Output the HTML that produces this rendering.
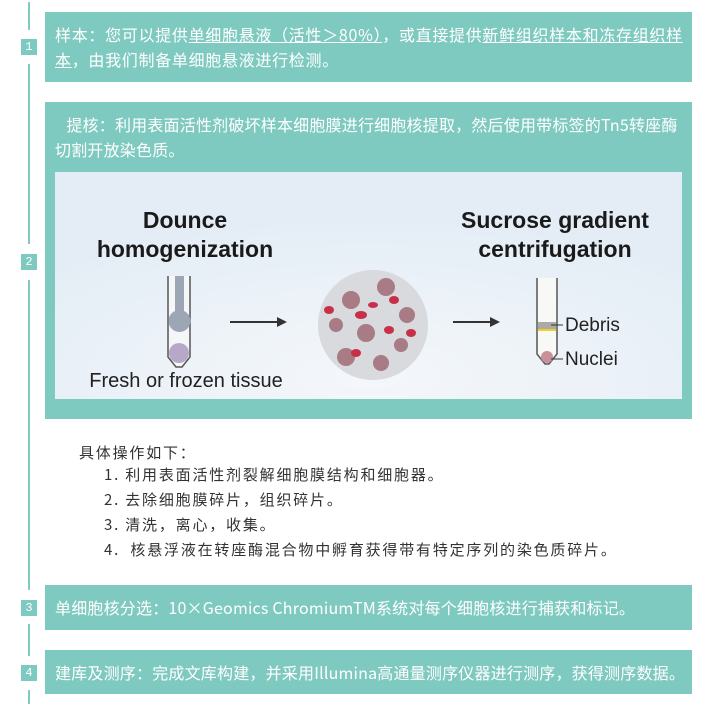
<!DOCTYPE html>
<html><head><meta charset="utf-8"><style>
body{margin:0;width:718px;height:711px;background:#fff;position:relative;overflow:hidden;font-family:"Liberation Sans","Noto Sans CJK SC",sans-serif}
.vl{position:absolute;left:28px;width:2px;background:#7fcac0}
.lab{position:absolute;left:21px;width:16px;height:16px;background:#7fcac0;color:#fff;font-size:12px;line-height:16px;text-align:center;font-family:"Liberation Mono",monospace}
.box{position:absolute;left:45px;width:647px;background:#7fcac0;color:#fff;font-size:16px;line-height:25px;font-family:"Noto Sans CJK SC",sans-serif;letter-spacing:0.2px}
.t{position:absolute;left:10px;white-space:nowrap}
svg{letter-spacing:0}
u{text-decoration:underline}
.list{position:absolute;color:#333;font-size:15px;letter-spacing:1.8px;font-family:"Noto Sans CJK SC",sans-serif;white-space:nowrap;line-height:20px}
</style></head><body>
<div class="vl" style="top:2px;height:28px"></div>
<div class="vl" style="top:64px;height:180px"></div>
<div class="vl" style="top:280px;height:310px"></div>
<div class="vl" style="top:624px;height:32px"></div>
<div class="vl" style="top:690px;height:14px"></div>
<div class="lab" style="top:39px">1</div>
<div class="lab" style="top:254px">2</div>
<div class="lab" style="top:600px">3</div>
<div class="lab" style="top:665px">4</div>

<div class="box" style="top:12px;height:70px;letter-spacing:0.7px"><div class="t" style="top:10px">样本：您可以提供<u>单细胞悬液（活性＞80%）</u>，或直接提供<u>新鲜组织样本和冻存组织样</u><br><u>本</u>，由我们制备单细胞悬液进行检测。</div></div>

<div class="box" style="top:102px;height:317px"><div class="t" style="top:10px">&nbsp;&nbsp;&nbsp;提核：利用表面活性剂破坏样本细胞膜进行细胞核提取，然后使用带标签的Tn5转座酶<br>切割开放染色质。</div>
<svg style="position:absolute;left:10px;top:70px" width="627" height="227" viewBox="0 0 627 227">
<defs><radialGradient id="g" cx="0.5" cy="0.9" r="0.7"><stop offset="0" stop-color="#f4f7fa"/><stop offset="1" stop-color="#e4edf6"/></radialGradient></defs>
<rect width="627" height="227" fill="url(#g)"/>
<g font-family="Liberation Sans" font-weight="bold" font-size="23" fill="#1a1a1a" text-anchor="middle">
<text x="130" y="56">Dounce</text><text x="130" y="85">homogenization</text>
<text x="500" y="56">Sucrose gradient</text><text x="500" y="85">centrifugation</text></g>
<text x="131" y="215" font-family="Liberation Sans" font-size="20" fill="#222" text-anchor="middle">Fresh or frozen tissue</text>
<path d="M113 104V185L121 195H127L135 185V104" fill="#f4f6f8" stroke="#555" stroke-width="1.5"/>
<rect x="120" y="104" width="9" height="45" fill="#9ca6b4"/><circle cx="124.5" cy="149" r="11" fill="#9ca6b4"/>
<ellipse cx="124" cy="181" rx="10" ry="10" fill="#b8a8c8"/>
<path d="M175 150H222" stroke="#333" stroke-width="2"/><path d="M222 145L232 150L222 155Z" fill="#333"/>
<circle cx="318" cy="153" r="55" fill="#d8dadd"/>
<g fill="#a87b85"><circle cx="296" cy="128" r="9"/><circle cx="331" cy="115" r="9"/><circle cx="352" cy="143" r="8"/><circle cx="311" cy="161" r="9"/><circle cx="291" cy="185" r="9"/><circle cx="326" cy="191" r="8"/><circle cx="346" cy="173" r="7"/><circle cx="281" cy="153" r="7"/></g>
<g fill="#c8304a"><ellipse cx="306" cy="143" rx="6" ry="4"/><ellipse cx="274" cy="138" rx="5" ry="4"/><ellipse cx="339" cy="128" rx="5" ry="4"/><ellipse cx="334" cy="158" rx="5" ry="4"/><ellipse cx="301" cy="181" rx="5" ry="4"/><ellipse cx="356" cy="161" rx="5" ry="4"/><ellipse cx="318" cy="133" rx="5" ry="3"/></g>
<path d="M398 150H435" stroke="#333" stroke-width="2"/><path d="M435 145L445 150L435 155Z" fill="#333"/>
<path d="M482 106V182L490 192H494L502 182V106" fill="#f8f8f6" stroke="#555" stroke-width="1.5"/>
<rect x="483" y="150" width="18" height="7" fill="#aaa"/><rect x="483" y="157" width="18" height="2" fill="#f0d020"/>
<circle cx="492" cy="185" r="6" fill="#c8909a"/>
<path d="M496 153H508M496 187H508" stroke="#333"/>
<g font-family="Liberation Sans" font-size="19" fill="#222"><text x="510" y="159">Debris</text><text x="510" y="193">Nuclei</text></g>
</svg></div>

<div class="list" style="left:79px;top:443px">具体操作如下：</div>
<div class="list" style="left:104px;top:465px">1. 利用表面活性剂裂解细胞膜结构和细胞器。</div>
<div class="list" style="left:104px;top:490px">2. 去除细胞膜碎片，组织碎片。</div>
<div class="list" style="left:104px;top:515px">3. 清洗，离心，收集。</div>
<div class="list" style="left:104px;top:540px">4.&nbsp;&nbsp;核悬浮液在转座酶混合物中孵育获得带有特定序列的染色质碎片。</div>

<div class="box" style="top:585px;height:45px"><div class="t" style="top:10px">单细胞核分选：10×Geomics ChromiumTM系统对每个细胞核进行捕获和标记。</div></div>
<div class="box" style="top:650px;height:44px"><div class="t" style="top:10px">建库及测序：完成文库构建，并采用Illumina高通量测序仪器进行测序，获得测序数据。</div></div>
</body></html>
